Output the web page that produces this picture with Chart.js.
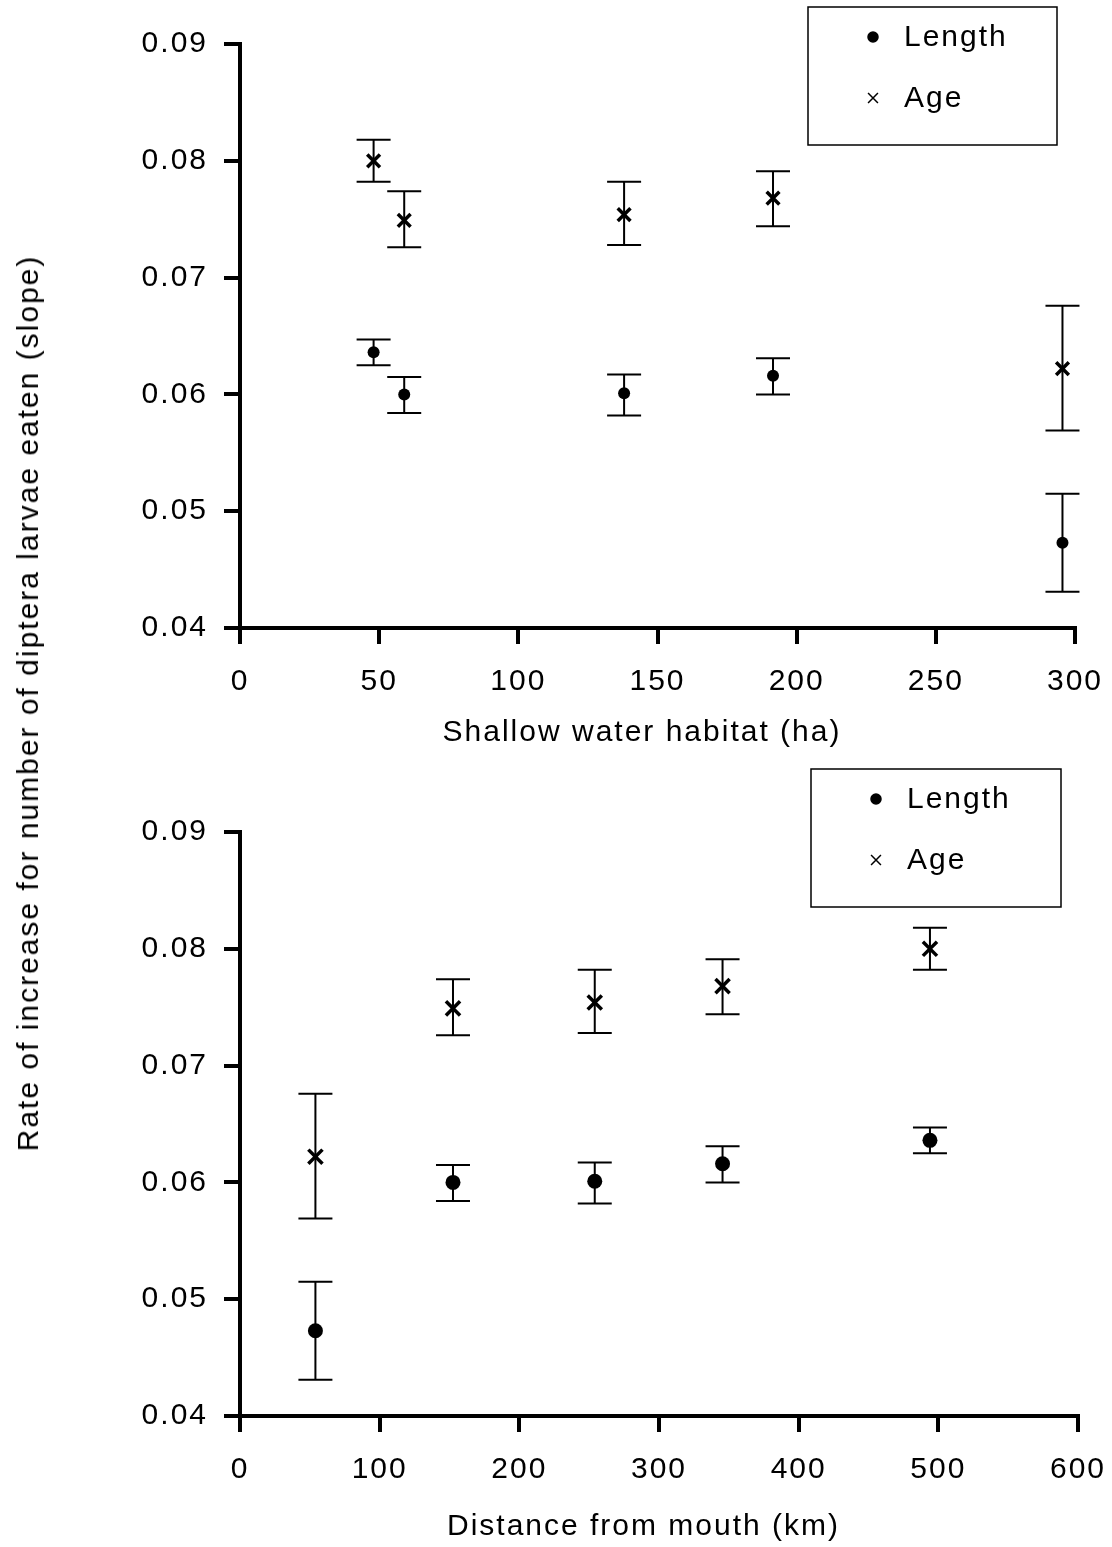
<!DOCTYPE html>
<html>
<head>
<meta charset="utf-8">
<script src="https://cdn.jsdelivr.net/npm/chart.js@4/dist/chart.umd.min.js"></script>
<style>
  html, body { margin: 0; padding: 0; background: #fff; }
  #page { position: relative; width: 1112px; height: 1547px; overflow: hidden; }
  #topChart { position: absolute; left: 0; top: 0; }
  #bottomChart { position: absolute; left: 0; top: 760px; }
  #yTitle {
    position: absolute; left: 28px; top: 703px; white-space: nowrap;
    transform: translate(-50%, -50%) rotate(-90deg);
    font: 30px 'Liberation Sans', Arial, sans-serif; letter-spacing: 2px; color: #000;
  }
</style>
</head>
<body>
<div id="page">
  <canvas id="topChart" width="1112" height="760"></canvas>
  <canvas id="bottomChart" width="1112" height="787"></canvas>
  <div id="yTitle">Rate of increase for number of diptera larvae eaten (slope)</div>
</div>
<script>
// five sites, same order in both panels
const habitatHa = [48, 59, 138, 191.5, 295.5];
const distanceKm = [494, 152.5, 254, 345.5, 54];

const lengthSlope = [0.0636, 0.0600, 0.0601, 0.0616, 0.0473];
const lengthLow   = [0.0625, 0.0584, 0.0582, 0.0600, 0.0431];
const lengthHigh  = [0.0647, 0.0615, 0.0617, 0.0631, 0.0515];

const ageSlope = [0.0800, 0.0749, 0.0754, 0.0768, 0.0622];
const ageLow   = [0.0782, 0.0726, 0.0728, 0.0744, 0.0569];
const ageHigh  = [0.0818, 0.0774, 0.0782, 0.0791, 0.0676];

const yTicks = [0.04, 0.05, 0.06, 0.07, 0.08, 0.09];
const habitatTicks = [0, 50, 100, 150, 200, 250, 300];
const distanceTicks = [0, 100, 200, 300, 400, 500, 600];

const FONT = "'Liberation Sans', Arial, sans-serif";
const SPACING = "2px";

let spacingPlugin = {
    id: "spacing",
    beforeUpdate: (chart)=>{ chart.ctx.letterSpacing = SPACING; },
    beforeDraw: (chart)=>{ chart.ctx.letterSpacing = SPACING; },
};

let errorBarPlugin = {
    id: "errorBars",
    beforeDatasetsDraw: (chart)=>{
        let ctx = chart.ctx;
        let xs = chart.scales.x, ys = chart.scales.y;
        ctx.save();
        ctx.strokeStyle = "#000";
        ctx.lineWidth = 2;
        chart.data.datasets.forEach((set)=>{
            set.data.forEach((p, i)=>{
                let x = xs.getPixelForValue(p.x);
                let lo = ys.getPixelForValue(set.errLow[i]);
                let hi = ys.getPixelForValue(set.errHigh[i]);
                ctx.beginPath();
                ctx.moveTo(x, lo); ctx.lineTo(x, hi);
                ctx.moveTo(x-17, lo); ctx.lineTo(x+17, lo);
                ctx.moveTo(x-17, hi); ctx.lineTo(x+17, hi);
                ctx.stroke();
            });
        });
        ctx.restore();
    },
};

let boxLegendPlugin = {
    id: "boxLegend",
    afterDraw: (chart, args, opts)=>{
        let ctx = chart.ctx;
        ctx.save();
        ctx.letterSpacing = SPACING;
        ctx.strokeStyle = "#000";
        ctx.lineWidth = 1.5;
        ctx.strokeRect(opts.x, opts.y, opts.w, opts.h);
        let items = [
            {style: "circle", radius: 5, label: chart.data.datasets[0].label},
            {style: "crossRot", radius: 7, label: chart.data.datasets[1].label},
        ];
        ctx.font = "30px " + FONT;
        ctx.textBaseline = "middle";
        items.forEach((it, i)=>{
            let cy = opts.y + 30 + i*61;
            ctx.fillStyle = "#000";
            ctx.strokeStyle = "#000";
            Chart.helpers.drawPoint(ctx, {pointStyle: it.style, radius: it.radius, borderWidth: 2}, opts.x + 65, cy);
            ctx.fillStyle = "#000";
            ctx.fillText(it.label, opts.x + 96, cy + 1);
        });
        ctx.restore();
    },
};

let makeChart = (canvas, xValues, xTicks, xTitle, pads, legendBox, sizes)=>{
    return new Chart(canvas, {
        type: "scatter",
        data: {
            datasets: [
                {
                    label: "Length",
                    data: xValues.map((x, i)=>({x: x, y: lengthSlope[i]})),
                    errLow: lengthLow, errHigh: lengthHigh,
                    pointStyle: "circle", pointRadius: sizes.dot,
                    backgroundColor: "#000", borderColor: "#000", borderWidth: 0,
                },
                {
                    label: "Age",
                    data: xValues.map((x, i)=>({x: x, y: ageSlope[i]})),
                    errLow: ageLow, errHigh: ageHigh,
                    pointStyle: "crossRot", pointRadius: sizes.cross,
                    backgroundColor: "#000", borderColor: "#000", borderWidth: 3.5,
                },
            ],
        },
        options: {
            responsive: false,
            animation: false,
            events: [],
            layout: {padding: {top: pads.top, right: pads.right, left: 0, bottom: 0}},
            plugins: {
                legend: {display: false},
                tooltip: {enabled: false},
                boxLegend: legendBox,
            },
            scales: {
                x: {
                    type: "linear",
                    min: xTicks[0], max: xTicks[xTicks.length-1],
                    afterBuildTicks: (s)=>{ s.ticks = xTicks.map(v=>({value: v})); },
                    afterFit: (s)=>{ s.height = pads.xHeight; s.paddingLeft = 0; s.paddingRight = 0; },
                    border: {display: true, color: "#000", width: 4},
                    grid: {display: true, drawOnChartArea: false, drawTicks: true, tickLength: 16, tickWidth: 4, tickColor: "#000", color: "#000", lineWidth: 4},
                    ticks: {color: "#000", padding: 20, font: {family: FONT, size: 30}, maxRotation: 0},
                    // trailing spaces nudge the centred title a little to the left, as in the original
                    title: {display: true, text: xTitle + "   ", color: "#000", font: {family: FONT, size: 30}, padding: {top: 0, bottom: pads.titleBottom}},
                },
                y: {
                    type: "linear",
                    min: yTicks[0], max: yTicks[yTicks.length-1],
                    afterBuildTicks: (s)=>{ s.ticks = yTicks.map(v=>({value: v})); },
                    afterFit: (s)=>{ s.width = 240; s.paddingTop = 0; s.paddingBottom = 0; },
                    border: {display: true, color: "#000", width: 4},
                    grid: {display: true, drawOnChartArea: false, drawTicks: true, tickLength: 16, tickWidth: 4, tickColor: "#000", color: "#000", lineWidth: 4},
                    ticks: {color: "#000", padding: 16, font: {family: FONT, size: 30}, callback: (v)=>v.toFixed(2)},
                },
            },
        },
        plugins: [spacingPlugin, errorBarPlugin, boxLegendPlugin],
    });
};

makeChart(document.getElementById("topChart"), habitatHa, habitatTicks, "Shallow water habitat (ha)",
    {top: 44, right: 37, xHeight: 132, titleBottom: 9},
    {x: 808, y: 7, w: 249, h: 138},
    {dot: 6, cross: 9});

makeChart(document.getElementById("bottomChart"), distanceKm, distanceTicks, "Distance from mouth (km)",
    {top: 72, right: 34, xHeight: 131, titleBottom: 2},
    {x: 811, y: 9, w: 250, h: 138},
    {dot: 7.5, cross: 10});
</script>
</body>
</html>
